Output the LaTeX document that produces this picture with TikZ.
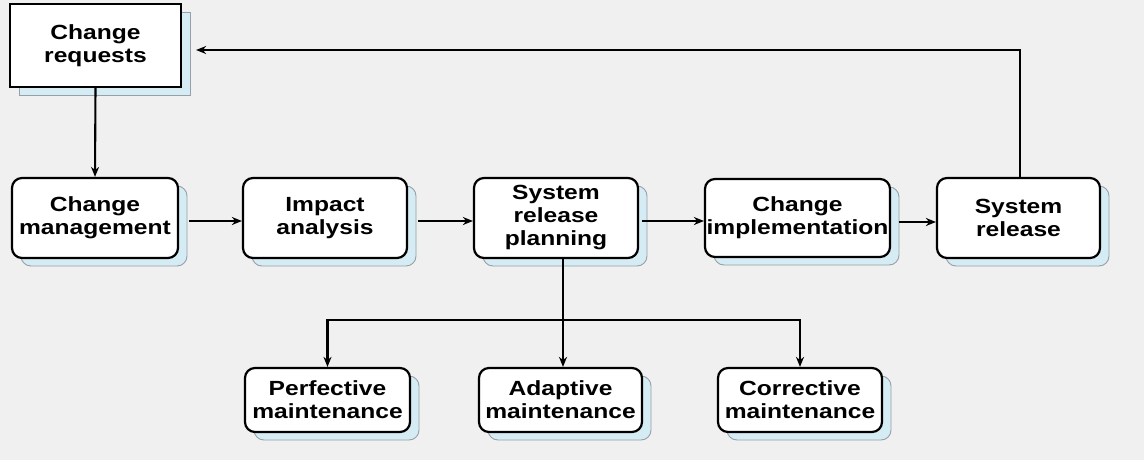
\documentclass[tikz,border=0pt]{standalone}
\usepackage{fontspec}
\setmainfont[FakeStretch=1.2]{Liberation Sans}
\usetikzlibrary{shadows,arrows.meta}
\definecolor{bgc}{RGB}{240,240,240}
\definecolor{shblue}{RGB}{214,236,244}
\definecolor{shedge}{RGB}{150,160,166}
\begin{document}
\begin{tikzpicture}[x=1pt,y=-1pt,
  box/.style={draw=black,line width=2.2pt,fill=white,rounded corners=10pt,
    minimum height=80pt,align=center,inner sep=0pt,
    font=\fontsize{20.5}{23}\selectfont\bfseries,
    drop shadow={shadow xshift=9pt,shadow yshift=-8pt,fill=shblue,draw=shedge,line width=0.9pt,opacity=1}},
  sbox/.style={box,minimum height=64pt},
  arr/.style={line width=2.1pt,-{Stealth[length=10pt,width=8pt]}}]
\fill[bgc] (0,0) rectangle (1144,460);
\node[box,rounded corners=0pt,minimum width=171pt,minimum height=83pt] (CR) at (95.5,45.5) {Change\\requests};
\node[box,minimum width=166pt] (CM) at (95,218) {Change\\management};
\node[box,minimum width=164pt] (IA) at (325,218) {Impact\\analysis};
\node[box,minimum width=164pt] (SRP) at (556,218) {System\\release\\planning};
\node[box,minimum width=185pt,minimum height=78pt] (CI) at (797.5,218) {Change\\implementation};
\node[box,minimum width=163pt] (SR) at (1018.5,218) {System\\release};
\node[sbox,minimum width=165pt] (PM) at (327.5,400) {Perfective\\maintenance};
\node[sbox,minimum width=163pt] (AM) at (560.5,400) {Adaptive\\maintenance};
\node[sbox,minimum width=164pt] (CoM) at (800,400) {Corrective\\maintenance};
\coordinate (J) at (563,320);
\draw[arr] (CR.south) -- (CM.north);
\draw[arr,shorten <=10pt] ([yshift=-3pt]CM.east) -- ([yshift=-3pt]IA.west);
\draw[arr,shorten <=10pt] ([yshift=-3pt]IA.east) -- ([yshift=-3pt]SRP.west);
\draw[arr,shorten <=3pt] ([yshift=-3pt]SRP.east) -- ([yshift=-3pt]CI.west);
\draw[arr,shorten <=8pt] ([yshift=-4pt]CI.east) -- ([yshift=-4pt]SR.west);
\draw[arr] ([xshift=1.5pt]SR.north) |- ([xshift=14pt,yshift=-4.5pt]CR.east);
\draw[arr] ([xshift=7pt]SRP.south) -- ([xshift=2.5pt]AM.north);
\draw[arr] (J) -| (PM.north);
\draw[arr] (J) -| (CoM.north);
\end{tikzpicture}
\end{document}
